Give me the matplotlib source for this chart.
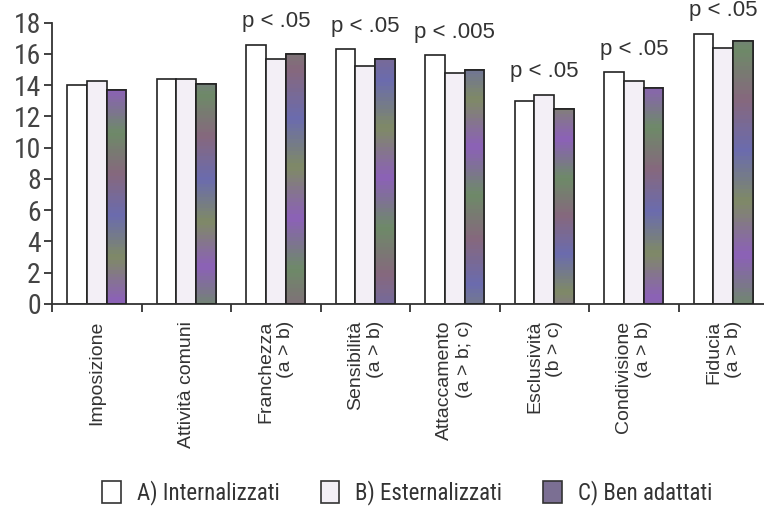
import numpy as np
import matplotlib
matplotlib.use('Agg')
import matplotlib.pyplot as plt
from matplotlib.patches import Patch
from matplotlib.colors import LinearSegmentedColormap

# dati
categorie = ['Imposizione', 'Attività comuni', 'Franchezza\n(a > b)', 'Sensibilità\n(a > b)',
             'Attaccamento\n(a > b; c)', 'Esclusività\n(b > c)', 'Condivisione\n(a > b)',
             'Fiducia\n(a > b)']
internalizzati = [14.0, 14.4, 16.6, 16.3, 15.95, 13.0, 14.85, 17.3]
esternalizzati = [14.25, 14.4, 15.65, 15.2, 14.75, 13.4, 14.3, 16.35]
ben_adattati = [13.7, 14.05, 16.0, 15.65, 14.95, 12.5, 13.85, 16.8]
p_valori = ['', '', 'p < .05', 'p < .05', 'p < .005', 'p < .05', 'p < .05', 'p < .05']
serie = ['A) Internalizzati', 'B) Esternalizzati', 'C) Ben adattati']

narrow = ['Roboto Condensed', 'Roboto', 'DejaVu Sans']
plt.rcParams['font.family'] = ['Liberation Sans', 'DejaVu Sans']

fig = plt.figure(figsize=(7.64, 5.12), dpi=100)
ax = fig.add_axes([52/764, 208/512, 716/764, 281.3/512])

x = np.arange(len(categorie))
w = 0.22
colori = ['white', '#f3eff6', '#7b6f93']
gruppi = []
for i, (vals, col) in enumerate(zip([internalizzati, esternalizzati, ben_adattati], colori)):
    gruppi.append(ax.bar(x + (i - 1) * w, vals, w, color=col, edgecolor='#222222',
                         linewidth=1.2, zorder=2))

# sfumatura "stampata" delle barre scure
sfum = LinearSegmentedColormap.from_list('scan', ['#8b62b5', '#6e8a68', '#86687e',
                                                   '#6b6cae', '#7f8a66', '#8b62b5'])
for k, r in enumerate(gruppi[2]):
    g = np.linspace(0, 1, 64)[:, None]
    g = (g + k * 0.17) % 1
    im = ax.imshow(g, cmap=sfum, aspect='auto', zorder=2.5,
                   extent=[r.get_x(), r.get_x() + r.get_width(), 0, r.get_height()])
    im.set_clip_path(r)
    ax.bar(r.get_x() + r.get_width() / 2, r.get_height(), r.get_width(), fill=False,
           edgecolor='#222222', linewidth=1.2, zorder=3)

# etichette di significatività sopra il gruppo
for xi, p, a, b, c in zip(x, p_valori, internalizzati, esternalizzati, ben_adattati):
    if p:
        ax.text(xi, max(a, b, c) + 1.45, p, ha='center', va='center', fontsize=16,
                color='#333333', clip_on=False)

ax.set_xlim(-0.5, len(categorie) - 0.5)
ax.set_ylim(0, 18)
ax.set_yticks(range(0, 19, 2))
ax.set_xticks(x)
ax.set_xticklabels(categorie, rotation=90, fontsize=14, color='#333333', multialignment='right')
ax.set_xticks(np.arange(-0.5, len(categorie), 1), minor=True)
ax.tick_params(axis='x', which='major', length=0, pad=12)
ax.tick_params(axis='x', which='minor', length=6, width=1.3, color='#333333')
ax.tick_params(axis='y', length=6, width=1.3, color='#333333', pad=2)
for lab in ax.get_yticklabels():
    lab.set_family(narrow)
    lab.set_fontsize(20)
    lab.set_color('#444444')

for s in ['top', 'right']:
    ax.spines[s].set_visible(False)
for s in ['left', 'bottom']:
    ax.spines[s].set_linewidth(1.3)
    ax.spines[s].set_color('#333333')

handles = [Patch(facecolor=c, edgecolor='#333333', linewidth=1.2) for c in colori]
leg = fig.legend(handles, serie, loc='center', bbox_to_anchor=(0.533, 1 - 493/512), ncol=3,
                 frameon=False, prop={'family': narrow, 'size': 16.5},
                 handlelength=0.8, handleheight=1.1, handletextpad=0.7, columnspacing=1.8)
for t in leg.get_texts():
    t.set_color('#333333')

fig.savefig('out.png', dpi=100)
